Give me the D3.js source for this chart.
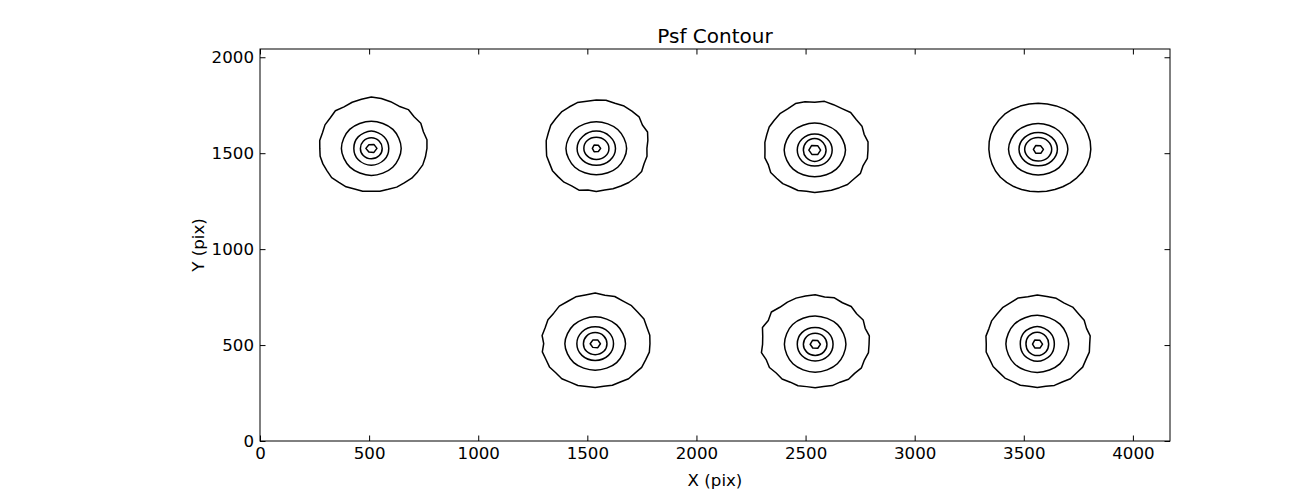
<!DOCTYPE html>
<html><head><meta charset="utf-8">
<script src="https://cdn.jsdelivr.net/npm/d3@7"></script>
<style>
body{margin:0;background:#fff}
text{font-family:"DejaVu Sans",sans-serif;fill:#000}
</style>
</head><body>
<svg id="c" width="1300" height="490"></svg>
<script>
// ---------- data ----------
const titleText = "Psf Contour";
const xLabel = "X (pix)";
const yLabel = "Y (pix)";
const xTicks = [0,500,1000,1500,2000,2500,3000,3500,4000];
const yTicks = [0,500,1000,1500,2000];
const xMax = 4170, yMax = 2043;

// PSF centres (pix)
const psfX = [510, 1541, 2542, 3566, 1536, 2544, 3562];
const psfY = [1525, 1525, 1516, 1520, 507, 504, 505];

// Outer contour radii (pix) at 0°,10°,...,350° (counter-clockwise from +X)
const outerR = [
 [255,259,254,262,256,264,254,259,264,268,260,256,250,256,246,245,238,240,236,238,236,234,237,231,231,225,227,223,227,227,233,235,242,245,251,252],
 [232,240,250,244,256,254,255,250,255,252,250,254,249,248,242,241,234,233,229,231,228,232,229,230,226,232,220,225,220,224,226,232,236,240,233,236],
 [244,248,241,250,248,256,250,252,258,250,256,258,248,248,242,241,234,232,228,232,226,233,228,228,222,224,218,221,219,223,226,234,234,242,236,245],
 [241,242,242,243,243,243,242,241,240,240,240,240,240,239,236,234,231,228,226,225,225,226,226,225,224,223,222,221,222,223,225,228,231,235,238,240],
 [251,254,252,258,255,259,256,262,256,264,258,260,254,256,248,250,244,247,236,246,240,242,236,238,231,232,226,228,225,230,230,238,238,246,246,252],
 [247,252,244,254,248,257,250,258,250,258,256,256,254,252,262,248,257,244,241,250,238,242,233,236,228,230,224,226,223,229,228,238,236,245,240,248],
 [240,246,240,248,246,252,247,254,252,256,251,256,248,248,242,242,236,239,234,238,232,234,229,231,226,228,223,226,223,229,228,236,234,240,237,242]
];
// Second contour radii at 0°,45°,...,315°
const ring2R = [
 [137,140,142,140,137,138,141,139],
 [139,139,139,139,139,139,138,139],
 [141,140,141,141,140,140,139,140],
 [136,135,135,136,136,135,134,135],
 [139,139,140,139,139,139,138,139],
 [141,145,148,146,141,144,146,144],
 [144,147,150,148,144,147,148,146]
];
// Third contour radii
const ring3R = [
 [80,84,90,85,80,84,88,84],
 [88,88,90,88,88,88,88,88],
 [80,82,84,82,80,82,83,82],
 [88,88,88,88,88,87,86,87],
 [84,86,88,86,84,86,87,86],
 [82,85,88,86,82,85,87,85],
 [78,84,92,86,78,84,90,84]
];
// Fourth contour radii
const ring4R = [
 [50,52,55,52,50,52,54,52],
 [58,58,58,58,57,57,58,58],
 [52,55,60,56,52,55,59,55],
 [62,62,62,62,62,61,61,62],
 [54,56,58,56,54,56,57,56],
 [54,56,58,56,54,56,58,56],
 [52,56,62,57,52,56,60,56]
];
// Innermost contour radii at 0°,60°,...,300°
const ring5R = [
 [26,24,22,25,22,24],
 [20,19,20,18,20,19],
 [27,27,28,27,26,27],
 [24,22,23,22,23,24],
 [24,23,22,23,22,24],
 [24,23,24,23,22,24],
 [24,23,24,22,23,24]
];

// ---------- chart ----------
const svg = d3.select("#c");
const x = d3.scaleLinear().domain([0, xMax]).range([260, 1170]);
const y = d3.scaleLinear().domain([0, yMax]).range([441, 49]);
const fs = 16.67, tick = 5.5;

function ringPoints(cx, cy, radii) {
  const n = radii.length;
  return radii.map((r, k) => {
    const a = 2 * Math.PI * k / n;
    return [cx + r * Math.cos(a), cy + r * Math.sin(a)];
  });
}
const lineLin = d3.line().x(d => x(d[0])).y(d => y(d[1])).curve(d3.curveLinearClosed);
const lineSmooth = d3.line().x(d => x(d[0])).y(d => y(d[1])).curve(d3.curveCatmullRomClosed.alpha(0.5));

const g = svg.append("g");
psfX.forEach((cx, i) => {
  const cy = psfY[i];
  const paths = [
    lineLin(ringPoints(cx, cy, outerR[i])),
    lineSmooth(ringPoints(cx, cy, ring2R[i])),
    lineSmooth(ringPoints(cx, cy, ring3R[i])),
    lineSmooth(ringPoints(cx, cy, ring4R[i])),
    lineLin(ringPoints(cx, cy, ring5R[i]))
  ];
  paths.forEach(p => g.append("path").attr("d", p)
    .attr("fill", "none").attr("stroke", "#000").attr("stroke-width", 1.5)
    .attr("stroke-linejoin", "round"));
});

// axes
function styleAxis(sel) {
  sel.select(".domain").remove();
  sel.selectAll("line").attr("stroke", "#000").attr("stroke-width", 1);
  sel.selectAll("text").attr("font-size", fs).attr("font-family", "DejaVu Sans").attr("fill", "#000");
}
svg.append("g").attr("transform", "translate(0,441)")
  .call(d3.axisBottom(x).tickValues(xTicks).tickSizeInner(-tick).tickSizeOuter(0).tickPadding(6).tickFormat(d3.format("d")))
  .call(styleAxis);
svg.append("g").attr("transform", "translate(0,49)")
  .call(d3.axisTop(x).tickValues(xTicks).tickSizeInner(-tick).tickSizeOuter(0).tickFormat(""))
  .call(styleAxis);
svg.append("g").attr("transform", "translate(260,0)")
  .call(d3.axisLeft(y).tickValues(yTicks).tickSizeInner(-tick).tickSizeOuter(0).tickPadding(6).tickFormat(d3.format("d")))
  .call(styleAxis);
svg.append("g").attr("transform", "translate(1170,0)")
  .call(d3.axisRight(y).tickValues(yTicks).tickSizeInner(-tick).tickSizeOuter(0).tickFormat(""))
  .call(styleAxis);

svg.append("rect").attr("x", 260).attr("y", 49).attr("width", 910).attr("height", 392)
  .attr("fill", "none").attr("stroke", "#000").attr("stroke-width", 1);

svg.append("text").attr("x", 715).attr("y", 43).attr("text-anchor", "middle")
  .attr("font-size", 20).text(titleText);
svg.append("text").attr("x", 715).attr("y", 486).attr("text-anchor", "middle")
  .attr("font-size", fs).text(xLabel);
svg.append("text").attr("transform", "translate(204,245) rotate(-90)").attr("text-anchor", "middle")
  .attr("font-size", fs).text(yLabel);
</script>
</body></html>
